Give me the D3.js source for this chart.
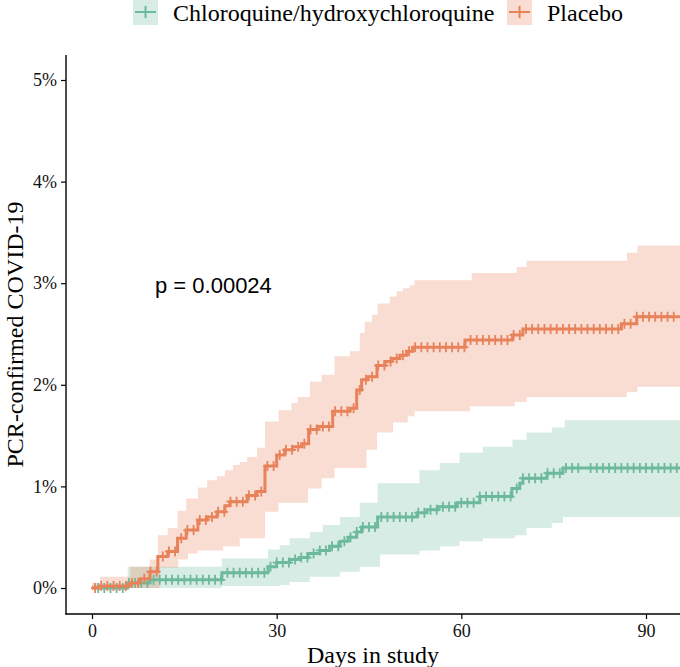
<!DOCTYPE html>
<html lang="en">
<head>
  <meta charset="UTF-8" />
  <title>PCR-confirmed COVID-19</title>
  <script src="https://d3js.org/d3.v7.min.js"></script>
  <style>
    body { margin: 0; background: #fff; }
    svg { display: block; }
  </style>
</head>
<body>
  <svg id="chart" width="680" height="667"></svg>

  <script>
    // groups
    const groups = ["Chloroquine/hydroxychloroquine", "Placebo"];
    const colors = ["#6cb99c", "#e8825a"];

    // cumulative incidence (%) step curves
    const hcqTime = [0, 5.8, 9.4, 21.1, 28.6, 30.0, 32.1, 33.8, 35.1, 37.0, 38.6, 40.3, 41.6, 43.0, 43.8, 46.4, 52.8, 54.4, 56.2, 59.3, 63.0, 68.2, 69.5, 70.0, 73.9, 76.5];
    const hcqPct = [0, 0.05, 0.08, 0.15, 0.21, 0.25, 0.28, 0.30, 0.34, 0.37, 0.41, 0.46, 0.50, 0.55, 0.60, 0.70, 0.74, 0.77, 0.80, 0.84, 0.90, 0.98, 1.03, 1.08, 1.13, 1.18];

    const pboTime = [0, 1.3, 6.2, 7.8, 9.4, 10.7, 12.3, 13.9, 15.3, 17.2, 18.7, 20.3, 21.6, 22.4, 25.2, 26.8, 28.1, 30.0, 31.3, 32.6, 34.1, 35.2, 36.7, 39.1, 41.9, 43.0, 43.8, 44.8, 46.3, 47.6, 48.7, 50.0, 51.1, 52.1, 60.6, 68.3, 70.0, 86.0, 88.5];
    const pboPct = [0, 0.02, 0.05, 0.09, 0.16, 0.31, 0.36, 0.49, 0.57, 0.67, 0.70, 0.75, 0.81, 0.85, 0.91, 0.95, 1.20, 1.31, 1.36, 1.39, 1.42, 1.56, 1.59, 1.74, 1.77, 1.95, 2.05, 2.08, 2.19, 2.23, 2.26, 2.29, 2.33, 2.37, 2.44, 2.49, 2.55, 2.60, 2.67];

    // confidence bands
    const hcqUpTime = [0, 5.8, 21.1, 28.6, 30.5, 32.1, 35.4, 37.5, 40.3, 43.5, 46.4, 53.2, 56.5, 59.7, 63.5, 68.3, 70.6, 74.7, 76.8];
    const hcqUp = [0.03, 0.21, 0.29, 0.38, 0.42, 0.49, 0.55, 0.62, 0.70, 0.84, 1.03, 1.16, 1.23, 1.33, 1.39, 1.46, 1.53, 1.58, 1.65];
    const hcqLoTime = [0, 21.1, 30.5, 32.1, 35.4, 40.3, 43.5, 46.8, 53.2, 56.5, 59.7, 63.5, 68.7, 70.6, 74.7, 76.5];
    const hcqLo = [0, 0.02, 0.03, 0.06, 0.11, 0.16, 0.21, 0.33, 0.37, 0.41, 0.46, 0.49, 0.52, 0.59, 0.64, 0.70];

    const pboUpTime = [0, 1.3, 6.2, 9.4, 10.7, 12.3, 13.9, 15.3, 17.2, 18.7, 20.3, 21.6, 22.9, 24.0, 25.2, 26.8, 28.1, 30.3, 32.4, 33.4, 35.4, 37.3, 39.4, 41.9, 43.5, 44.3, 45.5, 46.4, 48.4, 49.5, 50.5, 51.6, 52.4, 61.7, 69.0, 70.6, 86.9, 88.6];
    const pboUp = [0.05, 0.11, 0.21, 0.28, 0.52, 0.59, 0.76, 0.88, 0.99, 1.06, 1.10, 1.16, 1.21, 1.24, 1.29, 1.38, 1.64, 1.75, 1.82, 1.88, 2.03, 2.10, 2.28, 2.33, 2.51, 2.62, 2.69, 2.80, 2.87, 2.92, 2.95, 2.98, 3.03, 3.10, 3.16, 3.22, 3.30, 3.37];
    const pboLoTime = [0, 11.0, 14.0, 15.6, 17.2, 21.3, 24.0, 28.1, 30.3, 35.1, 37.3, 39.4, 44.6, 46.3, 48.9, 51.3, 52.4, 61.4, 68.7, 70.6, 86.9, 88.6];
    const pboLo = [0, 0.20, 0.28, 0.34, 0.37, 0.41, 0.49, 0.75, 0.84, 0.98, 1.08, 1.18, 1.36, 1.53, 1.63, 1.69, 1.74, 1.79, 1.83, 1.88, 1.93, 1.98];

    // censoring marks (days)
    const hcqCensor = [1, 2, 3, 4, 5, 6, 7, 8, 9, 10, 11, 12, 13, 14, 15, 16, 17, 18, 19, 20, 21, 22, 23, 24, 25, 26, 27, 28, 29, 30, 31, 32, 33, 34, 35, 36, 37, 38, 39, 40, 41, 42, 43, 44, 45, 46, 47, 48, 49, 50, 51, 52, 53, 54, 55, 56, 57, 58, 59, 60, 61, 62, 63, 64, 65, 66, 67, 68, 69, 70, 71, 72, 73, 74, 75, 76, 77, 78, 79, 81, 82, 83, 84, 85, 86, 87, 88, 89, 90, 91, 92, 93, 94, 95];
    const pboCensor = [0.5, 1.5, 2.5, 3.5, 4.5, 5.5, 6.5, 7.5, 8.5, 9.5, 10.5, 11.5, 12.5, 13.5, 14.5, 15.5, 16.5, 17.5, 18.5, 19.5, 20.5, 21.5, 22.5, 23.5, 24.5, 25.5, 26.5, 27.5, 28.5, 29.5, 30.5, 31.5, 32.5, 33.5, 34.5, 35.5, 36.5, 37.5, 38.5, 39.5, 40.5, 41.5, 42.5, 43.5, 44.5, 45.5, 46.5, 47.5, 48.5, 49.5, 50.5, 51.5, 52.5, 53.5, 54.5, 55.5, 56.5, 57.5, 58.5, 59.5, 60.5, 61.5, 62.5, 63.5, 64.5, 65.5, 66.5, 67.5, 68.5, 69.5, 70.5, 71.5, 72.5, 73.5, 74.5, 75.5, 76.5, 77.5, 78.5, 79.5, 80.5, 81.5, 82.5, 83.5, 84.5, 85.5, 86.5, 87.5, 88.5, 89.5, 90.5, 91.5, 92.5, 93.5, 94.5];

    const xTicks = [0, 30, 60, 90];
    const yTicks = [0, 0.01, 0.02, 0.03, 0.04, 0.05];
    const pLabel = "p = 0.00024";
    const endDay = 96;

    const svg = d3.select("#chart");
    const panel = { left: 66, right: 680, top: 55, bottom: 614 };

    const x = d3.scaleLinear().domain([0, 90]).range([92, 646]);
    const y = d3.scaleLinear().domain([0, 0.05]).range([588, 80]);

    function stepAt(times, vals, t) {
      const i = d3.bisectRight(times, t) - 1;
      return vals[Math.max(0, i)];
    }

    svg.append("clipPath").attr("id", "clip")
      .append("rect")
      .attr("x", panel.left).attr("y", panel.top)
      .attr("width", panel.right - panel.left).attr("height", panel.bottom - panel.top);

    const plot = svg.append("g").attr("clip-path", "url(#clip)");

    const series = [
      { time: hcqTime, pct: hcqPct, upT: hcqUpTime, up: hcqUp, loT: hcqLoTime, lo: hcqLo, censor: hcqCensor, color: colors[0] },
      { time: pboTime, pct: pboPct, upT: pboUpTime, up: pboUp, loT: pboLoTime, lo: pboLo, censor: pboCensor, color: colors[1] }
    ];

    // bands
    const area = d3.area()
      .curve(d3.curveStepAfter)
      .x(d => x(d.t))
      .y0(d => y(d.lo / 100))
      .y1(d => y(d.up / 100));

    series.forEach(s => {
      const ts = Array.from(new Set([...s.upT, ...s.loT, endDay])).sort((a, b) => a - b);
      const pts = ts.map(t => ({ t, up: stepAt(s.upT, s.up, t), lo: stepAt(s.loT, s.lo, t) }));
      plot.append("path")
        .attr("d", area(pts))
        .attr("fill", s.color)
        .attr("fill-opacity", 0.27);
    });

    // step lines + censor marks
    const line = d3.line()
      .curve(d3.curveStepAfter)
      .x(d => x(d.t))
      .y(d => y(d.v / 100));

    series.forEach(s => {
      const pts = s.time.map((t, i) => ({ t, v: s.pct[i] }));
      pts.push({ t: endDay, v: s.pct[s.pct.length - 1] });
      plot.append("path")
        .attr("d", line(pts))
        .attr("fill", "none")
        .attr("stroke", s.color)
        .attr("stroke-width", 3);

      const marks = plot.append("g")
        .attr("stroke", s.color)
        .attr("stroke-width", 1.8);
      marks.selectAll("path")
        .data(s.censor)
        .join("path")
        .attr("d", d => {
          const cx = x(d), cy = y(stepAt(s.time, s.pct, d) / 100);
          return `M${cx - 4},${cy}H${cx + 4}M${cx},${cy - 5}V${cy + 5}`;
        });
    });

    // axes
    const serif = "'Liberation Serif', 'Times New Roman', serif";

    const yAxis = svg.append("g")
      .attr("transform", `translate(${panel.left},0)`)
      .call(d3.axisLeft(y).tickValues(yTicks).tickFormat(d3.format(".0%")).tickSize(5).tickPadding(4));
    const xAxis = svg.append("g")
      .attr("transform", `translate(0,${panel.bottom})`)
      .call(d3.axisBottom(x).tickValues(xTicks).tickSize(5).tickPadding(5));

    [xAxis, yAxis].forEach(a => {
      a.select(".domain").remove();
      a.selectAll(".tick line").attr("stroke", "#000").attr("stroke-width", 1.2);
      a.selectAll("text").attr("font-family", serif).attr("font-size", 18).attr("fill", "#111");
    });

    svg.append("line")
      .attr("x1", panel.left).attr("x2", panel.left)
      .attr("y1", panel.top).attr("y2", panel.bottom + 0.6)
      .attr("stroke", "#000").attr("stroke-width", 1.4);
    svg.append("line")
      .attr("x1", panel.left - 0.6).attr("x2", panel.right)
      .attr("y1", panel.bottom).attr("y2", panel.bottom)
      .attr("stroke", "#000").attr("stroke-width", 1.4);

    svg.append("text")
      .attr("x", (panel.left + panel.right) / 2).attr("y", 663)
      .attr("text-anchor", "middle")
      .attr("font-family", serif).attr("font-size", 24)
      .text("Days in study");

    svg.append("text")
      .attr("transform", `translate(23,${(panel.top + panel.bottom) / 2}) rotate(-90)`)
      .attr("text-anchor", "middle")
      .attr("font-family", serif).attr("font-size", 24)
      .text("PCR-confirmed COVID-19");

    svg.append("text")
      .attr("x", 155).attr("y", 293)
      .attr("font-family", "'Liberation Sans', Arial, sans-serif").attr("font-size", 22)
      .text(pLabel);

    // legend
    const legendX = [133, 507];
    const legend = svg.append("g");
    groups.forEach((g, i) => {
      const lx = legendX[i], cy = 12;
      legend.append("rect")
        .attr("x", lx).attr("y", -1).attr("width", 25).attr("height", 26)
        .attr("fill", colors[i]).attr("fill-opacity", 0.27);
      legend.append("path")
        .attr("d", `M${lx + 2},${cy}H${lx + 23}M${lx + 12.5},${cy - 6}V${cy + 6}`)
        .attr("stroke", colors[i]).attr("stroke-width", 2);
      legend.append("text")
        .attr("x", lx + 40).attr("y", 21)
        .attr("font-family", serif).attr("font-size", 24)
        .text(g);
    });
  </script>
</body>
</html>
